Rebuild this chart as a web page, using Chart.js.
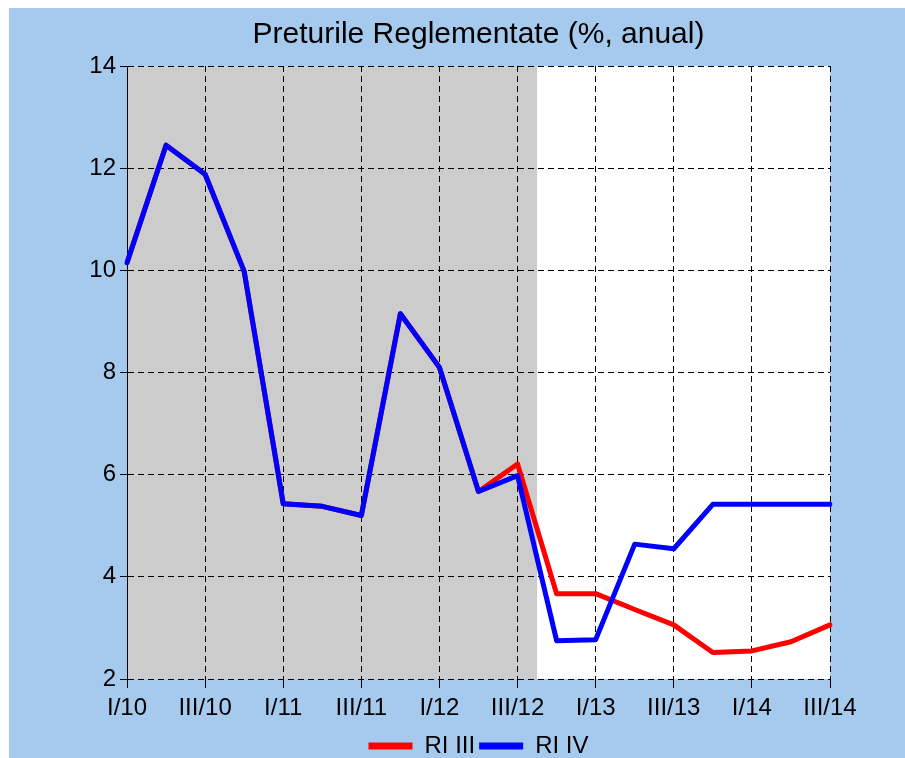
<!DOCTYPE html>
<html>
<head>
<meta charset="utf-8">
<script src="https://cdn.jsdelivr.net/npm/chart.js@4.4.1/dist/chart.umd.min.js"></script>
<style>
  html, body { margin: 0; padding: 0; background: #ffffff; overflow: hidden; }
  #wrap { position: absolute; left: 9px; top: 8px; width: 896px; height: 760px; background: #a6c9ee; }
</style>
</head>
<body>
<div id="wrap"><canvas id="chart"></canvas></div>
<script>
// Trimestre (etichete pe axa X)
const quarters = [
  'I/10', 'II/10', 'III/10', 'IV/10',
  'I/11', 'II/11', 'III/11', 'IV/11',
  'I/12', 'II/12', 'III/12', 'IV/12',
  'I/13', 'II/13', 'III/13', 'IV/13',
  'I/14', 'II/14', 'III/14'
];

// Raportul asupra inflatiei III (rosu) si IV (albastru)
const riIII = [10.15, 12.45, 11.88, 9.98, 5.43, 5.38, 5.2, 9.15, 8.1, 5.67, 6.21, 3.67, 3.67, 3.36, 3.06, 2.52, 2.55, 2.73, 3.06];
const riIV  = [10.15, 12.45, 11.88, 9.98, 5.43, 5.38, 5.2, 9.15, 8.1, 5.67, 5.98, 2.75, 2.77, 4.64, 4.55, 5.42, 5.42, 5.42, 5.42];

const yTicks = [2, 4, 6, 8, 10, 12, 14];
const lastHistory = 'III/12'; // zona gri = date istorice

const FONT = "'Liberation Sans', Arial, sans-serif";

// fundal: zona alba + zona gri pana la ultimul trimestru istoric
const shadePlugin = {
  id: 'shade',
  beforeDraw(chart) {
    const { ctx, chartArea: a, scales: { x } } = chart;
    const i = quarters.indexOf(lastHistory);
    const xEnd = (x.getPixelForValue(i) + x.getPixelForValue(i + 1)) / 2;
    ctx.save();
    ctx.fillStyle = '#ffffff';
    ctx.fillRect(a.left, a.top, a.right - a.left, a.bottom - a.top);
    ctx.fillStyle = '#cccccc';
    ctx.fillRect(a.left, a.top, xEnd - a.left, a.bottom - a.top);
    ctx.restore();
  }
};

const ctx = document.getElementById('chart').getContext('2d');
new Chart(ctx, {
  type: 'line',
  data: {
    labels: quarters,
    datasets: [
      {
        label: 'RI III',
        data: riIII,
        borderColor: '#ff0000',
        backgroundColor: '#ff0000',
        borderWidth: 5,
        borderCapStyle: 'round',
        borderJoinStyle: 'round',
        pointRadius: 0,
        tension: 0,
        order: 1
      },
      {
        label: 'RI IV',
        data: riIV,
        borderColor: '#0000ff',
        backgroundColor: '#0000ff',
        borderWidth: 5,
        borderCapStyle: 'round',
        borderJoinStyle: 'round',
        pointRadius: 0,
        tension: 0,
        order: 0
      }
    ]
  },
  options: {
    responsive: true,
    maintainAspectRatio: false,
    animation: false,
    layout: { padding: { left: 0, right: 75, top: 0, bottom: 0 } },
    plugins: {
      title: {
        display: true,
        text: 'Preturile Reglementate (%, anual)',
        color: '#000000',
        fullSize: false,
        font: { family: FONT, size: 30, weight: 'normal', lineHeight: 1.2 },
        padding: { top: 9, bottom: 13 }
      },
      legend: {
        position: 'bottom',
        fullSize: false,
        labels: {
          color: '#000000',
          font: { family: FONT, size: 24 },
          usePointStyle: true,
          pointStyle: 'line',
          pointStyleWidth: 44,
          boxHeight: 8,
          padding: 4,
          generateLabels: (chart) =>
            Chart.defaults.plugins.legend.labels.generateLabels(chart)
              .map(l => ({ ...l, lineWidth: 7, pointStyle: 'line' })),
          // ordinea din legenda: RI III, apoi RI IV
          sort: (a, b) => a.datasetIndex - b.datasetIndex
        }
      },
      tooltip: { enabled: false }
    },
    scales: {
      x: {
        grid: {
          color: (c) => (c.index % 2 === 0 ? '#000000' : 'rgba(0,0,0,0)'),
          tickColor: (c) => (c.index % 2 === 0 ? '#000000' : 'rgba(0,0,0,0)'),
          tickLength: 9,
          lineWidth: 1
        },
        border: { display: false, dash: [6, 4] },
        ticks: {
          autoSkip: false,
          maxRotation: 0,
          padding: 6,
          color: '#000000',
          font: { family: FONT, size: 24 },
          callback: (v, i) => (i % 2 === 0 ? quarters[i] : '')
        },
        afterFit: (s) => { s.height = 51; }
      },
      y: {
        min: yTicks[0],
        max: yTicks[yTicks.length - 1],
        grid: { color: '#000000', tickColor: '#000000', tickLength: 7, lineWidth: 1 },
        border: { display: true, color: '#000000', width: 1, dash: [6, 4] },
        ticks: {
          stepSize: 2,
          padding: 4,
          color: '#000000',
          font: { family: FONT, size: 24 }
        },
        afterBuildTicks: (s) => { s.ticks = yTicks.map(v => ({ value: v })); },
        afterFit: (s) => { s.width = 118; }
      }
    }
  },
  plugins: [shadePlugin]
});
</script>
</body>
</html>
